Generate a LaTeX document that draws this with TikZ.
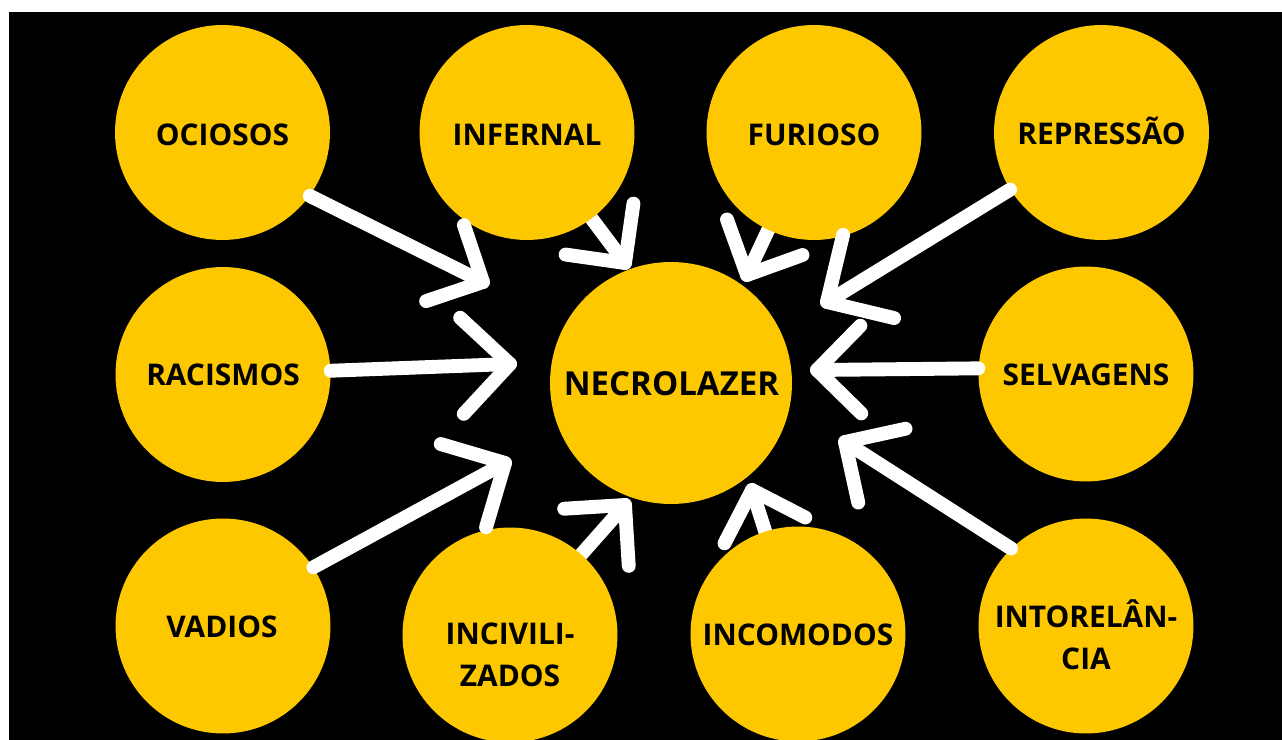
\documentclass[tikz,border=0pt]{standalone}
\usepackage{fontspec}
\setmainfont{Open Sans}
\usetikzlibrary{calc}
\pgfdeclarelayer{behind}
\pgfsetlayers{behind,main}
\definecolor{yel}{RGB}{253,200,0}
\tikzset{
  bubble/.style={circle, fill=yel, draw=none, minimum size=4.3cm, inner sep=0pt},
  hub/.style={bubble, minimum size=4.84cm},
  lbl/.style={inner sep=0pt, text=black, align=center,
    font=\bfseries\fontsize{17}{23.8}\selectfont},
  hublbl/.style={lbl, font=\bfseries\fontsize{18.8}{23.8}\selectfont},
  arr/.style={draw=white, line width=7.9pt, line cap=round, line join=round},
}
\newcommand{\chev}[3]{\draw[arr] ($(#2)!#3!45:(#1)$) -- (#2) -- ($(#2)!#3!-45:(#1)$);}
\begin{document}
\begin{tikzpicture}[x=0.02cm,y=-0.02cm]
\begin{pgfonlayer}{behind}
  \fill[white] (0,0) rectangle (1282,740);
  \fill[black] (9,12) rectangle (1282,740);
\end{pgfonlayer}
\useasboundingbox (0,0) rectangle (1282,740);

% circles
\node[bubble] (ocio) at (222.5,132.5) {};
\node[bubble] (infe) at (527,132.5) {};
\node[bubble] (furi) at (814,132.5) {};
\node[bubble] (repr) at (1101.5,132.5) {};
\node[bubble] (raci) at (223,374.5) {};
\node[hub]    (necro) at (671,383) {};
\node[bubble] (selv) at (1086,374) {};
\node[bubble] (vadi) at (223,626) {};
\node[bubble] (inci) at (510,635) {};
\node[bubble] (inco) at (798,634) {};
\node[bubble] (into) at (1086,626) {};

% labels
\node[lbl, anchor=base] (ocio-t) at (222.5,146) {OCIOSOS};
\node[lbl, anchor=base] (infe-t) at (527,146) {INFERNAL};
\node[lbl, anchor=base] (furi-t) at (814,146) {FURIOSO};
\node[lbl, anchor=base] (repr-t) at (1101.5,145) {REPRESSÃO};
\node[lbl, anchor=base] (raci-t) at (223,385) {RACISMOS};
\node[hublbl, anchor=base] (necro-t) at (671.5,395) {NECROLAZER};
\node[lbl, anchor=base] (selv-t) at (1086,385) {SELVAGENS};
\node[lbl, anchor=base] (vadi-t) at (222,637) {VADIOS};
\node[lbl] (inci-t) at (510,655) {INCIVILI-\\ZADOS};
\node[lbl, anchor=base] (inco-t) at (798,645) {INCOMODOS};
\node[lbl] (into-t) at (1086,635) {INTORELÂN-\\CIA};

% arrow tips
\coordinate (t1) at (483,282);
\coordinate (t2) at (510,364);
\coordinate (t3) at (505,463);
\coordinate (t4) at (625,505);
\coordinate (t5) at (752,490);
\coordinate (t6) at (845,442);
\coordinate (t7) at (817,370);
\coordinate (t8) at (827,302);
\coordinate (t9) at (747,275);
\coordinate (t10) at (625,263);

% shafts hidden under their source circles
\begin{pgfonlayer}{behind}
  \draw[arr] (inci.center) -- (t4);
  \draw[arr] (inco.center) -- (t5);
  \draw[arr] (furi.center) -- (t9);
  \draw[arr] (infe.center) -- (t10);
\end{pgfonlayer}

% visible shafts
\draw[arr] (ocio.-36) -- (t1);
\draw[arr] (raci.2) -- (t2);
\draw[arr] (vadi.33) -- (t3);
\draw[arr] (into.134) -- (t6);
\draw[arr] (selv.177) -- (t7);
\draw[arr] (repr.212) -- (t8);

% heads
\chev{ocio.-36}{t1}{1.2cm}
\chev{raci.2}{t2}{1.36cm}
\chev{vadi.33}{t3}{1.34cm}
\chev{inci.center}{t4}{1.22cm}
\chev{inco.center}{t5}{1.2cm}
\chev{into.134}{t6}{1.24cm}
\chev{selv.177}{t7}{1.24cm}
\chev{repr.212}{t8}{1.38cm}
\chev{furi.center}{t9}{1.18cm}
\chev{infe.center}{t10}{1.2cm}
\end{tikzpicture}
\end{document}
